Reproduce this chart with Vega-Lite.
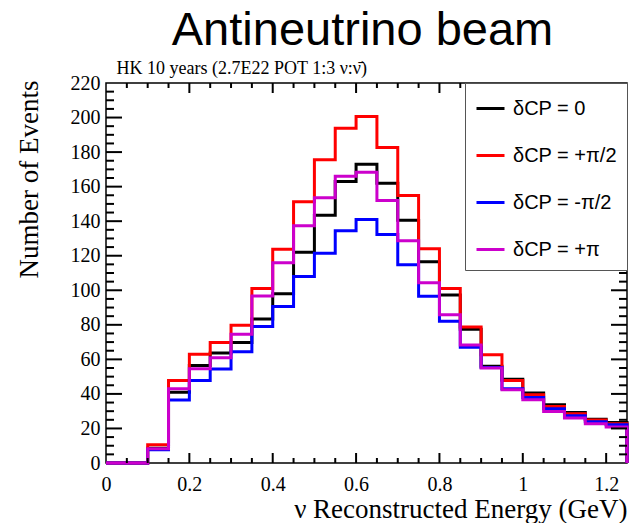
{
  "$schema": "https://vega.github.io/schema/vega-lite/v6.json",
  "width": 521,
  "height": 380,
  "autosize": "none",
  "padding": {"left": 106, "top": 83, "right": 2, "bottom": 60},
  "background": "white",
  "title": {
    "text": "Antineutrino beam",
    "font": "Liberation Sans",
    "fontSize": 47,
    "fontWeight": "normal",
    "color": "#000000",
    "anchor": "middle",
    "dx": -4,
    "offset": 4
  },
  "datasets": {
    "xmaj": [{"v": 0.2}, {"v": 0.4}, {"v": 0.6}, {"v": 0.8}, {"v": 1.0}, {"v": 1.2}],
    "xmin": [{"v": 0.05}, {"v": 0.1}, {"v": 0.15}, {"v": 0.25}, {"v": 0.3}, {"v": 0.35}, {"v": 0.45}, {"v": 0.5}, {"v": 0.55}, {"v": 0.65}, {"v": 0.7}, {"v": 0.75}, {"v": 0.85}, {"v": 0.9}, {"v": 0.95}, {"v": 1.05}, {"v": 1.1}, {"v": 1.15}],
    "ymaj": [{"v": 20}, {"v": 40}, {"v": 60}, {"v": 80}, {"v": 100}, {"v": 120}, {"v": 140}, {"v": 160}, {"v": 180}, {"v": 200}],
    "ymin": [{"v": 5}, {"v": 10}, {"v": 15}, {"v": 25}, {"v": 30}, {"v": 35}, {"v": 45}, {"v": 50}, {"v": 55}, {"v": 65}, {"v": 70}, {"v": 75}, {"v": 85}, {"v": 90}, {"v": 95}, {"v": 105}, {"v": 110}, {"v": 115}, {"v": 125}, {"v": 130}, {"v": 135}, {"v": 145}, {"v": 150}, {"v": 155}, {"v": 165}, {"v": 170}, {"v": 175}, {"v": 185}, {"v": 190}, {"v": 195}, {"v": 205}, {"v": 210}, {"v": 215}],
    "h": [
      {"E": 0.00, "n": 0, "s": "δCP = 0"},
      {"E": 0.05, "n": 0, "s": "δCP = 0"},
      {"E": 0.10, "n": 8.5, "s": "δCP = 0"},
      {"E": 0.15, "n": 41, "s": "δCP = 0"},
      {"E": 0.20, "n": 56.5, "s": "δCP = 0"},
      {"E": 0.25, "n": 63.7, "s": "δCP = 0"},
      {"E": 0.30, "n": 69.8, "s": "δCP = 0"},
      {"E": 0.35, "n": 83.3, "s": "δCP = 0"},
      {"E": 0.40, "n": 98, "s": "δCP = 0"},
      {"E": 0.45, "n": 122, "s": "δCP = 0"},
      {"E": 0.50, "n": 143.5, "s": "δCP = 0"},
      {"E": 0.55, "n": 163, "s": "δCP = 0"},
      {"E": 0.60, "n": 173, "s": "δCP = 0"},
      {"E": 0.65, "n": 162, "s": "δCP = 0"},
      {"E": 0.70, "n": 140.6, "s": "δCP = 0"},
      {"E": 0.75, "n": 116.5, "s": "δCP = 0"},
      {"E": 0.80, "n": 97.3, "s": "δCP = 0"},
      {"E": 0.85, "n": 77.5, "s": "δCP = 0"},
      {"E": 0.90, "n": 56, "s": "δCP = 0"},
      {"E": 0.95, "n": 48.5, "s": "δCP = 0"},
      {"E": 1.00, "n": 40.5, "s": "δCP = 0"},
      {"E": 1.05, "n": 33.7, "s": "δCP = 0"},
      {"E": 1.10, "n": 29.2, "s": "δCP = 0"},
      {"E": 1.15, "n": 25.4, "s": "δCP = 0"},
      {"E": 1.20, "n": 23.5, "s": "δCP = 0"},
      {"E": 1.25, "n": 0, "s": "δCP = 0"},

      {"E": 0.00, "n": 0, "s": "δCP = +π/2"},
      {"E": 0.05, "n": 0, "s": "δCP = +π/2"},
      {"E": 0.10, "n": 10.5, "s": "δCP = +π/2"},
      {"E": 0.15, "n": 47.7, "s": "δCP = +π/2"},
      {"E": 0.20, "n": 63, "s": "δCP = +π/2"},
      {"E": 0.25, "n": 69.8, "s": "δCP = +π/2"},
      {"E": 0.30, "n": 79.8, "s": "δCP = +π/2"},
      {"E": 0.35, "n": 101, "s": "δCP = +π/2"},
      {"E": 0.40, "n": 123.7, "s": "δCP = +π/2"},
      {"E": 0.45, "n": 151.3, "s": "δCP = +π/2"},
      {"E": 0.50, "n": 175.6, "s": "δCP = +π/2"},
      {"E": 0.55, "n": 193.8, "s": "δCP = +π/2"},
      {"E": 0.60, "n": 200.6, "s": "δCP = +π/2"},
      {"E": 0.65, "n": 182.7, "s": "δCP = +π/2"},
      {"E": 0.70, "n": 154.8, "s": "δCP = +π/2"},
      {"E": 0.75, "n": 124, "s": "δCP = +π/2"},
      {"E": 0.80, "n": 101, "s": "δCP = +π/2"},
      {"E": 0.85, "n": 78.8, "s": "δCP = +π/2"},
      {"E": 0.90, "n": 62.7, "s": "δCP = +π/2"},
      {"E": 0.95, "n": 47.8, "s": "δCP = +π/2"},
      {"E": 1.00, "n": 39.5, "s": "δCP = +π/2"},
      {"E": 1.05, "n": 32.7, "s": "δCP = +π/2"},
      {"E": 1.10, "n": 28.5, "s": "δCP = +π/2"},
      {"E": 1.15, "n": 24.9, "s": "δCP = +π/2"},
      {"E": 1.20, "n": 22.7, "s": "δCP = +π/2"},
      {"E": 1.25, "n": 0, "s": "δCP = +π/2"},

      {"E": 0.00, "n": 0, "s": "δCP = -π/2"},
      {"E": 0.05, "n": 0, "s": "δCP = -π/2"},
      {"E": 0.10, "n": 7.7, "s": "δCP = -π/2"},
      {"E": 0.15, "n": 36.5, "s": "δCP = -π/2"},
      {"E": 0.20, "n": 47.7, "s": "δCP = -π/2"},
      {"E": 0.25, "n": 54.4, "s": "δCP = -π/2"},
      {"E": 0.30, "n": 64.4, "s": "δCP = -π/2"},
      {"E": 0.35, "n": 79, "s": "δCP = -π/2"},
      {"E": 0.40, "n": 90.6, "s": "δCP = -π/2"},
      {"E": 0.45, "n": 108, "s": "δCP = -π/2"},
      {"E": 0.50, "n": 121.5, "s": "δCP = -π/2"},
      {"E": 0.55, "n": 134.4, "s": "δCP = -π/2"},
      {"E": 0.60, "n": 141, "s": "δCP = -π/2"},
      {"E": 0.65, "n": 132.3, "s": "δCP = -π/2"},
      {"E": 0.70, "n": 114.8, "s": "δCP = -π/2"},
      {"E": 0.75, "n": 96.5, "s": "δCP = -π/2"},
      {"E": 0.80, "n": 82, "s": "δCP = -π/2"},
      {"E": 0.85, "n": 67, "s": "δCP = -π/2"},
      {"E": 0.90, "n": 55.3, "s": "δCP = -π/2"},
      {"E": 0.95, "n": 43, "s": "δCP = -π/2"},
      {"E": 1.00, "n": 37.9, "s": "δCP = -π/2"},
      {"E": 1.05, "n": 31.4, "s": "δCP = -π/2"},
      {"E": 1.10, "n": 27.3, "s": "δCP = -π/2"},
      {"E": 1.15, "n": 23.9, "s": "δCP = -π/2"},
      {"E": 1.20, "n": 22.1, "s": "δCP = -π/2"},
      {"E": 1.25, "n": 0, "s": "δCP = -π/2"},

      {"E": 0.00, "n": 0, "s": "δCP = +π"},
      {"E": 0.05, "n": 0, "s": "δCP = +π"},
      {"E": 0.10, "n": 8.3, "s": "δCP = +π"},
      {"E": 0.15, "n": 43, "s": "δCP = +π"},
      {"E": 0.20, "n": 54.6, "s": "δCP = +π"},
      {"E": 0.25, "n": 61, "s": "δCP = +π"},
      {"E": 0.30, "n": 74.6, "s": "δCP = +π"},
      {"E": 0.35, "n": 96.7, "s": "δCP = +π"},
      {"E": 0.40, "n": 116, "s": "δCP = +π"},
      {"E": 0.45, "n": 137.3, "s": "δCP = +π"},
      {"E": 0.50, "n": 153.5, "s": "δCP = +π"},
      {"E": 0.55, "n": 166, "s": "δCP = +π"},
      {"E": 0.60, "n": 168.3, "s": "δCP = +π"},
      {"E": 0.65, "n": 152, "s": "δCP = +π"},
      {"E": 0.70, "n": 128.7, "s": "δCP = +π"},
      {"E": 0.75, "n": 104.4, "s": "δCP = +π"},
      {"E": 0.80, "n": 85.8, "s": "δCP = +π"},
      {"E": 0.85, "n": 68.3, "s": "δCP = +π"},
      {"E": 0.90, "n": 55, "s": "δCP = +π"},
      {"E": 0.95, "n": 42.4, "s": "δCP = +π"},
      {"E": 1.00, "n": 36.6, "s": "δCP = +π"},
      {"E": 1.05, "n": 29.8, "s": "δCP = +π"},
      {"E": 1.10, "n": 26, "s": "δCP = +π"},
      {"E": 1.15, "n": 22.7, "s": "δCP = +π"},
      {"E": 1.20, "n": 20.8, "s": "δCP = +π"},
      {"E": 1.25, "n": 0, "s": "δCP = +π"}
    ]
  },
  "layer": [
    {
      "data": {"name": "h"},
      "mark": {"type": "line", "interpolate": "step-after", "strokeWidth": 3, "clip": false},
      "encoding": {
        "x": {
          "field": "E", "type": "quantitative",
          "scale": {"domain": [0, 1.25], "nice": false, "zero": false},
          "axis": {
            "orient": "bottom",
            "values": [0,0.2,0.4,0.6,0.8,1,1.2],
            "format": "~g",
            "ticks": false,
            "tickSize": 0,
            "labelPadding": 11,
            "labelFlush": false,
            "labelOverlap": false,
            "labelFont": "Liberation Serif",
            "labelFontSize": 20,
            "labelColor": "#000000",
            "title": "ν Reconstructed Energy (GeV)",
            "titleFont": "Liberation Serif",
            "titleFontSize": 27,
            "titleFontWeight": "normal",
            "titleColor": "#000000",
            "titleAnchor": "end",
            "titleAlign": "right",
            "titleBaseline": "alphabetic",
            "titleX": 521,
            "titleY": 54,
            "grid": false,
            "domain": false
          }
        },
        "y": {
          "field": "n", "type": "quantitative",
          "scale": {"domain": [0, 220], "nice": false},
          "axis": {
            "orient": "left",
            "values": [0,20,40,60,80,100,120,140,160,180,200,220],
            "ticks": false,
            "tickSize": 0,
            "labelPadding": 6,
            "labelFlush": false,
            "labelOverlap": false,
            "labelFont": "Liberation Serif",
            "labelFontSize": 20,
            "labelColor": "#000000",
            "title": "Number of Events",
            "titleFont": "Liberation Serif",
            "titleFontSize": 27,
            "titleFontWeight": "normal",
            "titleColor": "#000000",
            "titleAnchor": "end",
            "titleAlign": "right",
            "titleBaseline": "alphabetic",
            "titleAngle": -90,
            "titleX": -69,
            "titleY": -3,
            "grid": false,
            "domain": false
          }
        },
        "color": {
          "field": "s", "type": "nominal",
          "scale": {
            "domain": ["δCP = 0", "δCP = +π/2", "δCP = -π/2", "δCP = +π"],
            "range": ["#000000", "#ff0000", "#0000ff", "#cc00cc"]
          },
          "legend": {
            "orient": "top-right",
            "offset": 0,
            "title": null,
            "symbolType": "stroke",
            "symbolSize": 784,
            "symbolStrokeWidth": 3,
            "labelFont": "Liberation Sans",
            "labelFontSize": 20,
            "labelColor": "#000000",
            "labelOffset": 7,
            "labelExpr": "datum.label + '\u00a0\u00a0\u00a0'",
            "rowPadding": 21,
            "padding": 10,
            "strokeColor": "#555555",
            "fillColor": "#ffffff",
            "cornerRadius": 0
          }
        }
      }
    },
    {
      "data": {"name": "xmaj"},
      "mark": {"type": "tick", "orient": "vertical", "size": 10, "thickness": 2, "yOffset": -5, "color": "#000000", "opacity": 1},
      "encoding": {
        "x": {"field": "v", "type": "quantitative", "scale": {"domain": [0, 1.25], "nice": false, "zero": false}, "axis": null},
        "y": {"datum": 0, "type": "quantitative", "scale": {"domain": [0, 220], "nice": false}, "axis": null}
      }
    },
    {
      "data": {"name": "xmaj"},
      "mark": {"type": "tick", "orient": "vertical", "size": 10, "thickness": 2, "yOffset": 5, "color": "#000000", "opacity": 1},
      "encoding": {
        "x": {
          "field": "v", "type": "quantitative", "scale": {"domain": [0, 1.25], "nice": false, "zero": false},
          "axis": {
            "orient": "top", "ticks": false, "labels": false, "domain": false, "grid": false,
            "title": "HK 10 years (2.7E22 POT 1:3 ν:ν̄)",
            "titleFont": "Liberation Serif",
            "titleFontSize": 18,
            "titleFontWeight": "normal",
            "titleColor": "#000000",
            "titleAnchor": "start",
            "titleAlign": "left",
            "titleBaseline": "alphabetic",
            "titleX": 10,
            "titleY": -10
          }
        },
        "y": {"datum": 220, "type": "quantitative", "scale": {"domain": [0, 220], "nice": false}, "axis": null}
      }
    },
    {
      "data": {"name": "xmin"},
      "mark": {"type": "tick", "orient": "vertical", "size": 5, "thickness": 2, "yOffset": -2.5, "color": "#000000", "opacity": 1},
      "encoding": {
        "x": {"field": "v", "type": "quantitative", "scale": {"domain": [0, 1.25], "nice": false, "zero": false}, "axis": null},
        "y": {"datum": 0, "type": "quantitative", "scale": {"domain": [0, 220], "nice": false}, "axis": null}
      }
    },
    {
      "data": {"name": "xmin"},
      "mark": {"type": "tick", "orient": "vertical", "size": 5, "thickness": 2, "yOffset": 2.5, "color": "#000000", "opacity": 1},
      "encoding": {
        "x": {"field": "v", "type": "quantitative", "scale": {"domain": [0, 1.25], "nice": false, "zero": false}, "axis": null},
        "y": {"datum": 220, "type": "quantitative", "scale": {"domain": [0, 220], "nice": false}, "axis": null}
      }
    },
    {
      "data": {"name": "ymaj"},
      "mark": {"type": "tick", "orient": "horizontal", "size": 16, "thickness": 2, "xOffset": 8, "color": "#000000", "opacity": 1},
      "encoding": {
        "y": {"field": "v", "type": "quantitative", "scale": {"domain": [0, 220], "nice": false}, "axis": null},
        "x": {"datum": 0, "type": "quantitative", "scale": {"domain": [0, 1.25], "nice": false, "zero": false}, "axis": null}
      }
    },
    {
      "data": {"name": "ymaj"},
      "mark": {"type": "tick", "orient": "horizontal", "size": 16, "thickness": 2, "xOffset": -8, "color": "#000000", "opacity": 1},
      "encoding": {
        "y": {"field": "v", "type": "quantitative", "scale": {"domain": [0, 220], "nice": false}, "axis": null},
        "x": {"datum": 1.25, "type": "quantitative", "scale": {"domain": [0, 1.25], "nice": false, "zero": false}, "axis": null}
      }
    },
    {
      "data": {"name": "ymin"},
      "mark": {"type": "tick", "orient": "horizontal", "size": 8, "thickness": 2, "xOffset": 4, "color": "#000000", "opacity": 1},
      "encoding": {
        "y": {"field": "v", "type": "quantitative", "scale": {"domain": [0, 220], "nice": false}, "axis": null},
        "x": {"datum": 0, "type": "quantitative", "scale": {"domain": [0, 1.25], "nice": false, "zero": false}, "axis": null}
      }
    },
    {
      "data": {"name": "ymin"},
      "mark": {"type": "tick", "orient": "horizontal", "size": 8, "thickness": 2, "xOffset": -4, "color": "#000000", "opacity": 1},
      "encoding": {
        "y": {"field": "v", "type": "quantitative", "scale": {"domain": [0, 220], "nice": false}, "axis": null},
        "x": {"datum": 1.25, "type": "quantitative", "scale": {"domain": [0, 1.25], "nice": false, "zero": false}, "axis": null}
      }
    }
  ],
  "resolve": {"axis": {"x": "independent", "y": "independent"}},
  "config": {
    "view": {"stroke": "#000000", "strokeWidth": 1.5}
  }
}
